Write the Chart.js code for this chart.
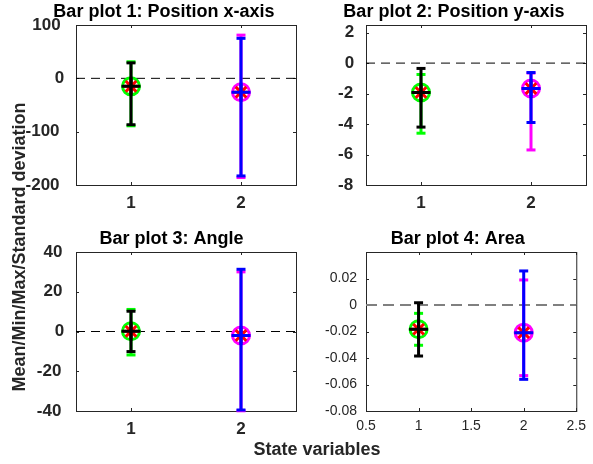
<!DOCTYPE html>
<html>
<head>
<meta charset="utf-8">
<script src="https://cdn.jsdelivr.net/npm/chart.js@4.4.1/dist/chart.umd.min.js"></script>
<style>
  body { margin: 0; background: #fff; }
  #fig { position: relative; width: 593px; height: 464px; overflow: hidden; background: #fff; }
  #fig canvas { position: absolute; left: 0; top: 0; }
</style>
</head>
<body>
<div id="fig">
  <canvas id="plot1" width="593" height="464"></canvas>
  <canvas id="plot2" width="593" height="464"></canvas>
  <canvas id="plot3" width="593" height="464"></canvas>
  <canvas id="plot4" width="593" height="464"></canvas>
</div>
<script>
const states = [1, 2];
const xTicksBold = [1, 2];
const xTicksArea = [0.5, 1, 1.5, 2, 2.5];

// Bar plot 1: Position x-axis
const posXMean = [-15, -26];
const posXMin = [-89, -186];
const posXMax = [31, 81];
const posXSdLow = [-87, -183];
const posXSdHigh = [29, 75];
const posXTicks = [-200, -100, 0, 100];

// Bar plot 2: Position y-axis
const posYMean = [-1.93, -1.67];
const posYMin = [-4.6, -5.7];
const posYMax = [-0.75, -0.65];
const posYSdLow = [-4.2, -3.9];
const posYSdHigh = [-0.35, -0.62];
const posYTicks = [-8, -6, -4, -2, 0, 2];

// Bar plot 3: Angle
const angleMean = [0.1, -2];
const angleMin = [-11.8, -39.9];
const angleMax = [11.1, 30];
const angleSdLow = [-10.1, -39.5];
const angleSdHigh = [10.2, 31.3];
const angleTicks = [-40, -20, 0, 20, 40];

// Bar plot 4: Area
const areaMean = [-0.0183, -0.0209];
const areaMin = [-0.0304, -0.0533];
const areaMax = [-0.0063, 0.0189];
const areaSdLow = [-0.0385, -0.0561];
const areaSdHigh = [0.0017, 0.0257];
const areaTicks = [-0.08, -0.06, -0.04, -0.02, 0, 0.02];

const ringColors = ['#00ff00', '#ff00ff'];
const plusColors = ['#000000', '#0000ff'];
const axisColor = '#262626';
const fontFamily = '"Liberation Sans", Arial, sans-serif';


function errorBar(x, lo, hi, color) {
    return {
        data: [{ x: x, y: lo }, { x: x, y: hi }],
        showLine: true,
        borderColor: color,
        borderWidth: 3,
        pointStyle: 'line',
        pointRadius: 4.5,
        pointBorderColor: color,
        pointBorderWidth: 3,
        clip: false
    };
}


function marker(x, y, style, color, radius, width) {
    return {
        data: [{ x: x, y: y }],
        pointStyle: style,
        pointRadius: radius,
        pointBorderColor: color,
        pointBackgroundColor: 'rgba(0,0,0,0)',
        pointBorderWidth: width,
        clip: false
    };
}


// first dataset ends up on top
function getDatasets(mean, min, max, sdLow, sdHigh, zeroStyle) {
    let datasets = [];
    for (let i = 0; i < states.length; i++) {
        const x = states[i];
        datasets.push(marker(x, mean[i], 'cross', plusColors[i], 9.5, 3));
        datasets.push(errorBar(x, sdLow[i], sdHigh[i], plusColors[i]));
        datasets.push(marker(x, mean[i], 'star', '#ff0000', 7.5, 3));
        datasets.push(marker(x, mean[i], 'circle', ringColors[i], 8.5, 3));
        datasets.push(errorBar(x, min[i], max[i], ringColors[i]));
    }
    datasets.push({
        data: [{ x: 0.5, y: 0 }, { x: 2.5, y: 0 }],
        showLine: true,
        borderColor: zeroStyle.color,
        borderWidth: zeroStyle.width,
        borderDash: zeroStyle.dash,
        pointRadius: 0
    });
    return datasets;
}


const framePlugin = {
    id: 'frame',
    beforeDatasetsDraw(chart) {
        const ctx = chart.ctx;
        const a = chart.chartArea;
        const xs = chart.scales.x;
        const ys = chart.scales.y;
        ctx.save();
        ctx.strokeStyle = axisColor;
        ctx.lineWidth = 1;
        ctx.strokeRect(a.left + 0.5, a.top + 0.5, a.right - a.left, a.bottom - a.top);
        ctx.beginPath();
        xs.ticks.forEach(t => {
            const px = Math.round(xs.getPixelForValue(t.value)) + 0.5;
            ctx.moveTo(px, a.bottom);
            ctx.lineTo(px, a.bottom - 3);
            ctx.moveTo(px, a.top);
            ctx.lineTo(px, a.top + 3);
        });
        ys.ticks.forEach(t => {
            const py = Math.round(ys.getPixelForValue(t.value)) + 0.5;
            ctx.moveTo(a.left, py);
            ctx.lineTo(a.left + 3, py);
            ctx.moveTo(a.right, py);
            ctx.lineTo(a.right - 3, py);
        });
        ctx.stroke();
        ctx.restore();
    },
    afterDraw(chart, args, opts) {
        const ctx = chart.ctx;
        const a = chart.chartArea;
        const ys = chart.scales.y;
        ctx.save();
        // bold y tick labels, placed the way the original figure places them
        if (opts.boldTicks) {
            ctx.font = 'bold 17px ' + fontFamily;
            ctx.fillStyle = axisColor;
            ctx.textAlign = 'left';
            ctx.textBaseline = 'middle';
            ys.ticks.forEach(t => {
                const label = String(t.value);
                const w = ctx.measureText(label).width;
                ctx.fillText(label, a.left - 10 - 1.19 * w, ys.getPixelForValue(t.value));
            });
        }
        ctx.font = 'bold 18px ' + fontFamily;
        ctx.fillStyle = '#000';
        ctx.textAlign = 'center';
        ctx.textBaseline = 'alphabetic';
        const w = ctx.measureText(opts.title).width;
        ctx.fillText(opts.title, (a.left + a.right) / 2 - 0.1 * w, a.top - 8);
        if (opts.figureLabels) {
            ctx.fillStyle = axisColor;
            ctx.fillText('State variables', 317, 455);
            ctx.translate(25, 247);
            ctx.rotate(-Math.PI / 2);
            ctx.fillText('Mean/Min/Max/Standard deviation', 0, 0);
        }
        ctx.restore();
    }
};


function renderPlot(id, cfg) {
    const bold = cfg.boldTicks;
    const tickFont = bold
        ? { family: fontFamily, size: 17, weight: 'bold' }
        : { family: fontFamily, size: 14, weight: 'normal' };
    const ctx = document.getElementById(id);
    return new Chart(ctx, {
        type: 'scatter',
        data: { datasets: getDatasets(cfg.mean, cfg.min, cfg.max, cfg.sdLow, cfg.sdHigh, cfg.zero) },
        options: {
            responsive: false,
            animation: false,
            events: [],
            layout: {
                autoPadding: false,
                padding: {
                    left: cfg.box.left - 60,
                    top: cfg.box.top,
                    right: 593 - cfg.box.right,
                    bottom: 464 - cfg.box.bottom - 30
                }
            },
            scales: {
                x: {
                    type: 'linear',
                    min: 0.5,
                    max: 2.5,
                    grid: { display: false, drawTicks: false },
                    border: { display: false },
                    ticks: {
                        font: tickFont,
                        color: axisColor,
                        padding: bold ? 8 : 7,
                        maxRotation: 0,
                        autoSkip: false,
                        callback: v => String(v)
                    },
                    afterBuildTicks: s => { s.ticks = cfg.xTicks.map(v => ({ value: v })); },
                    afterFit: s => { s.height = 30; }
                },
                y: {
                    type: 'linear',
                    min: cfg.yMin,
                    max: cfg.yMax,
                    grid: { display: false, drawTicks: false },
                    border: { display: false },
                    ticks: {
                        display: !bold,
                        font: tickFont,
                        color: axisColor,
                        padding: 9,
                        autoSkip: false,
                        callback: v => String(v)
                    },
                    afterBuildTicks: s => { s.ticks = cfg.yTicks.map(v => ({ value: v })); },
                    afterFit: s => { s.width = 60; }
                }
            },
            plugins: {
                legend: { display: false },
                tooltip: { enabled: false },
                frame: { title: cfg.title, figureLabels: !!cfg.figureLabels, boldTicks: bold }
            }
        },
        plugins: [framePlugin]
    });
}


const thinZero = { color: '#000000', width: 1, dash: [9, 6] };
const greyZero = { color: '#808080', width: 2, dash: [11, 6] };

renderPlot('plot1', {
    title: 'Bar plot 1: Position x-axis',
    mean: posXMean, min: posXMin, max: posXMax, sdLow: posXSdLow, sdHigh: posXSdHigh,
    yMin: -200, yMax: 100, yTicks: posXTicks, xTicks: xTicksBold,
    boldTicks: true, zero: thinZero,
    box: { left: 76, top: 25, right: 296, bottom: 185 }
});

renderPlot('plot2', {
    title: 'Bar plot 2: Position y-axis',
    mean: posYMean, min: posYMin, max: posYMax, sdLow: posYSdLow, sdHigh: posYSdHigh,
    yMin: -8, yMax: 2.5, yTicks: posYTicks, xTicks: xTicksBold,
    boldTicks: true, zero: thinZero,
    box: { left: 366, top: 25, right: 586, bottom: 185 }
});

renderPlot('plot3', {
    title: 'Bar plot 3: Angle',
    mean: angleMean, min: angleMin, max: angleMax, sdLow: angleSdLow, sdHigh: angleSdHigh,
    yMin: -40, yMax: 40, yTicks: angleTicks, xTicks: xTicksBold,
    boldTicks: true, zero: thinZero, figureLabels: true,
    box: { left: 76, top: 252, right: 296, bottom: 411 }
});

renderPlot('plot4', {
    title: 'Bar plot 4: Area',
    mean: areaMean, min: areaMin, max: areaMax, sdLow: areaSdLow, sdHigh: areaSdHigh,
    yMin: -0.08, yMax: 0.04, yTicks: areaTicks, xTicks: xTicksArea,
    boldTicks: false, zero: greyZero,
    box: { left: 366, top: 252, right: 586, bottom: 411 }
});
</script>
</body>
</html>
